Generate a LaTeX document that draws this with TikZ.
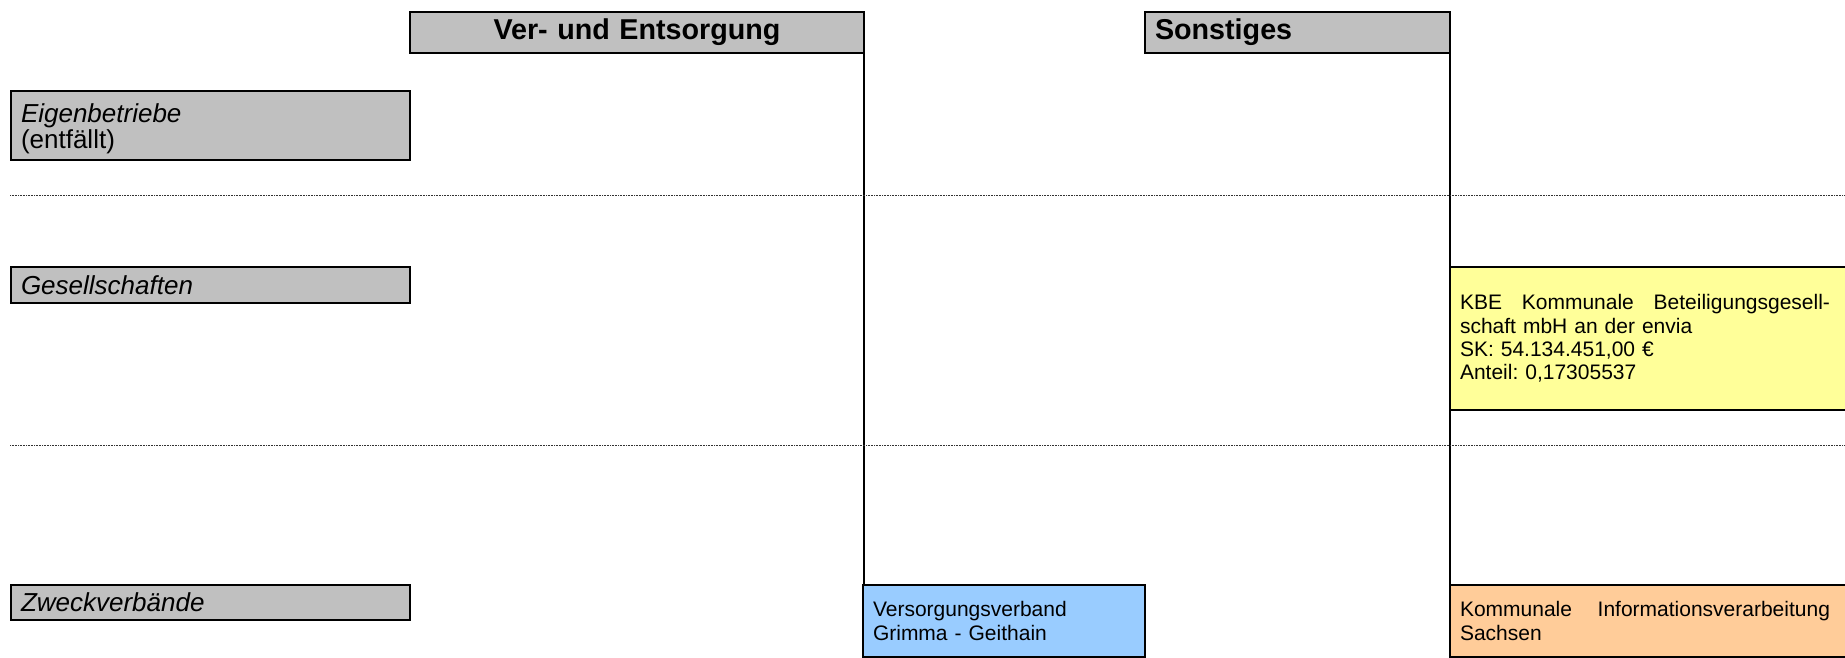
\documentclass[tikz,border=0pt]{standalone}
\usepackage{fontspec}
\setmainfont{Liberation Sans}
\usetikzlibrary{positioning, backgrounds}

\definecolor{headgray}{HTML}{C0C0C0}
\definecolor{kbeyellow}{HTML}{FFFF99}
\definecolor{zvblue}{HTML}{99CCFF}
\definecolor{zvorange}{HTML}{FFCC99}

% justified first line of a unit box
\newcommand{\spreadline}[1]{\makebox[370pt][s]{\spaceskip=0pt\relax #1}}

\begin{document}
\begin{tikzpicture}[
    x=1pt, y=-1pt,
    cell/.style={rectangle, draw=black, line width=1.3pt, outer sep=0pt, anchor=north west, align=left, inner xsep=10pt, inner ysep=0pt, font=\fontsize{26}{26.5}\selectfont\frenchspacing},
    head/.style={cell, fill=headgray, align=center, minimum height=41pt, font=\fontsize{28.7}{32}\selectfont\bfseries},
    rowhead/.style={cell, fill=headgray, text width=379pt},
    unit/.style={cell, font=\fontsize{21}{23.3}\selectfont\frenchspacing},
    sep/.style={densely dotted, line width=0.6pt, black!80},
    colline/.style={line width=1.3pt}
]
    \useasboundingbox (0,0) rectangle (1845,658);

    % Column heads
    \node[head, text width=434pt] (ver) at (410,12) {Ver- und Entsorgung};
    \node[head, align=left, text width=285pt] (son) at (1145,12) {Sonstiges};

    % Row heads
    \node[rowhead, minimum height=69pt, text height=19pt, text depth=25pt] (eig) at (11,91) {\textit{Eigenbetriebe}\\(entfällt)};
    \node[rowhead, minimum height=36pt] (ges) at (11,267) {\textit{Gesellschaften}};
    \node[rowhead, minimum height=35pt] (zwe) at (11,585) {\textit{Zweckverbände}};

    % Row separators
    \draw[sep] (10,195) -- (1845,195);
    \draw[sep] (10,445) -- (1845,445);

    % Units
    \node[unit, fill=kbeyellow, text width=390pt, minimum height=143pt] (kbe) at (1450,267) {\spreadline{KBE Kommunale Beteiligungsgesell-}\\schaft mbH an der envia\\SK: 54.134.451,00 €\\Anteil: 0,17305537};
    \node[unit, fill=zvblue, text width=262pt, minimum height=72pt] (vv) at (863,585) {Versorgungsverband\\Grimma - Geithain};
    \node[unit, fill=zvorange, text width=390pt, minimum height=72pt] (kiv) at (1450,585) {\spreadline{Kommunale Informationsverarbeitung}\\Sachsen};

    % Column lines
    \begin{pgfonlayer}{background}
        \draw[colline] (ver.south east) -- (ver.south east |- vv.north);
        \draw[colline] (son.south east) -- (son.south east |- kiv.north);
    \end{pgfonlayer}
\end{tikzpicture}
\end{document}
